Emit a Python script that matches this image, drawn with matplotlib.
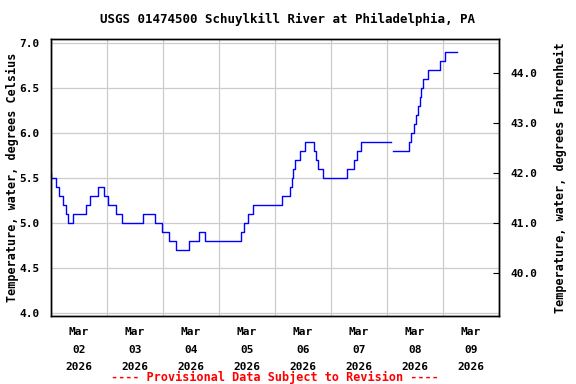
import datetime as dt
import numpy as np
import matplotlib
matplotlib.use('Agg')
import matplotlib.pyplot as plt
import matplotlib.dates as mdates

title = 'USGS 01474500 Schuylkill River at Philadelphia, PA'
note = '---- Provisional Data Subject to Revision ----'
ylabel_c = 'Temperature, water, degrees Celsius'
ylabel_f = 'Temperature, water, degrees Fahrenheit'

start = dt.datetime(2026, 3, 2)
# hours after Mar 02 00:00 where the reading changes, and the new reading (deg C)
hours = [0.0, 0.2, 2.1, 3.6, 5.0, 6.3, 7.4, 9.6, 15.0, 16.9, 20.2, 22.7,
         24.3, 28.0, 30.5, 39.4, 44.7, 47.5, 50.4, 53.7, 59.2, 63.4, 66.0,
         81.4, 82.9, 84.6, 86.6, 98.9, 102.4, 103.1, 103.9, 104.6, 106.7,
         109.0, 112.6, 113.4, 114.6, 116.4, 126.9, 130.0, 131.3, 133.0,
         145.7, 146.7, 153.3, 154.5, 155.5, 156.3, 157.3, 158.0, 158.6,
         159.6, 161.4, 166.7, 169.0, 174.0]
temps = [5.55, 5.5, 5.4, 5.3, 5.2, 5.1, 5.0, 5.1, 5.2, 5.3, 5.4, 5.3,
         5.2, 5.1, 5.0, 5.1, 5.0, 4.9, 4.8, 4.7, 4.8, 4.9, 4.8,
         4.9, 5.0, 5.1, 5.2, 5.3, 5.4, 5.5, 5.6, 5.7, 5.8,
         5.9, 5.8, 5.7, 5.6, 5.5, 5.6, 5.7, 5.8, 5.9,
         np.nan, 5.8, 5.9, 6.0, 6.1, 6.2, 6.3, 6.4, 6.5,
         6.6, 6.7, 6.8, 6.9, 6.9]

c_ticks = [4.0, 4.5, 5.0, 5.5, 6.0, 6.5, 7.0]
f_ticks = [40.0, 41.0, 42.0, 43.0, 44.0]
n_days = 8

font = {'family': 'DejaVu Sans Mono', 'weight': 'bold'}

times = [start + dt.timedelta(hours=h) for h in hours]

fig = plt.figure(figsize=(5.76, 3.84), dpi=100)
ax = fig.add_axes([0.0885, 0.1771, 0.7778, 0.7213])
ax.plot(times, temps, color='#0000ff', lw=1.0, drawstyle='steps-post')

ax.set_xlim(start, start + dt.timedelta(days=n_days))
ax.set_ylim(3.97, 7.04)

midnights = [start + dt.timedelta(days=i) for i in range(n_days + 1)]
noons = [start + dt.timedelta(days=i, hours=12) for i in range(n_days)]
ax.set_xticks(midnights)
ax.set_xticklabels([])
ax.set_xticks(noons, minor=True)
ax.set_xticklabels([d.strftime('%b\n%d\n%Y') for d in noons], minor=True,
                   fontsize=8, linespacing=1.95, **font)
ax.tick_params(axis='x', which='both', length=0, pad=8)

ax.set_yticks(c_ticks)
ax.set_yticklabels(['%.1f' % v for v in c_ticks], fontsize=8, **font)
ax.tick_params(axis='y', length=0, pad=8)
ax.grid(True, color='#cccccc', lw=0.9)
ax.set_axisbelow(True)
ax.set_ylabel(ylabel_c, fontsize=8.5, **font)
ax.yaxis.set_label_coords(-0.071, 0.5)

axr = ax.twinx()
lo, hi = ax.get_ylim()
axr.set_ylim(lo * 9 / 5 + 32, hi * 9 / 5 + 32)
axr.set_yticks(f_ticks)
axr.set_yticklabels(['%.1f' % v for v in f_ticks], fontsize=8, **font)
axr.tick_params(axis='y', direction='in', length=4, width=0.8, pad=8)
axr.set_ylabel(ylabel_f, fontsize=8.5, labelpad=12, **font)

for a in (ax, axr):
    for s in a.spines.values():
        s.set_linewidth(1.0)
        s.set_color('black')

fig.text(0.5, 0.95, title, ha='center', va='center', fontsize=9, **font)
ax.text(0.5, -0.222, note, transform=ax.transAxes, ha='center', va='center',
        color='#ff0000', fontsize=8.5, **font)

fig.savefig('out.png', dpi=100)
